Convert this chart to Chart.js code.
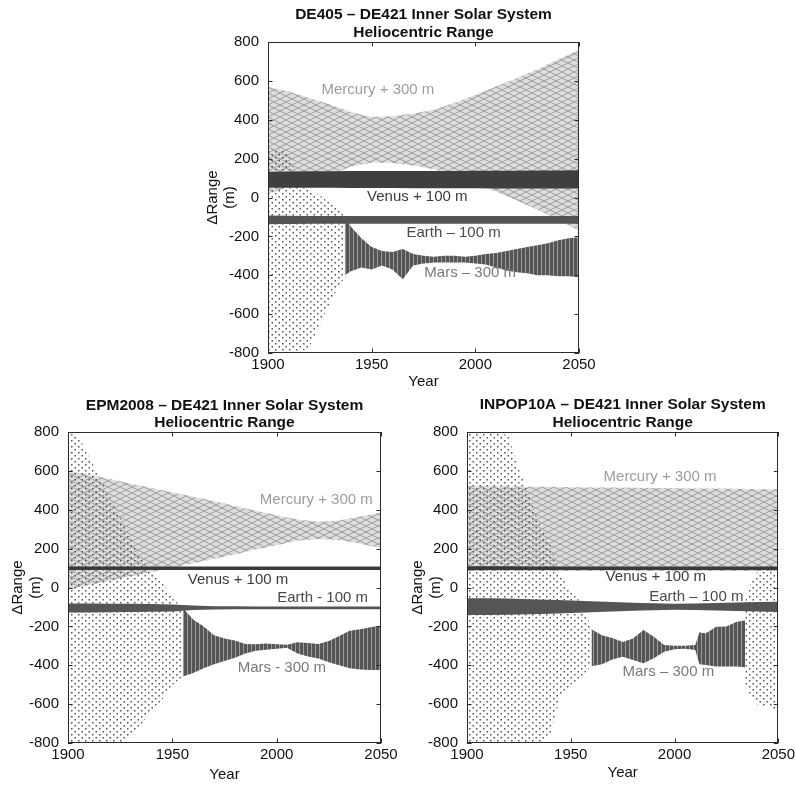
<!DOCTYPE html>
<html>
<head>
<meta charset="utf-8">
<title>Inner Solar System Heliocentric Range</title>
<script src="https://cdn.jsdelivr.net/npm/chart.js@4.4.0/dist/chart.umd.min.js"></script>
<style>
  html, body { margin: 0; padding: 0; background: #fff; }
  body { width: 795px; height: 785px; position: relative; overflow: hidden; }
  canvas { position: absolute; }
</style>
</head>
<body>
<canvas id="chartDe405" width="420" height="392" style="left:190px; top:0px;"></canvas>
<canvas id="chartEpm" width="410" height="400" style="left:0px; top:385px;"></canvas>
<canvas id="chartInpop" width="400" height="400" style="left:398px; top:385px;"></canvas>
<script>
// ---- Data (each series = upper / lower envelope of the point cloud) ----

const xTicks = [1900, 1950, 2000, 2050];
const yTicks = [-800, -600, -400, -200, 0, 200, 400, 600, 800];
const years10 = [1900, 1910, 1920, 1930, 1940, 1950, 1960, 1970, 1980, 1990, 2000, 2010, 2020, 2030, 2040, 2050];

// DE405 - DE421
const de405MercuryHi = [570, 545, 512, 478, 440, 414, 418, 432, 452, 488, 527, 571, 615, 660, 712, 762];
const de405MercuryLo = [20, 55, 88, 120, 158, 180, 178, 165, 145, 110, 70, 30, -15, -62, -115, -170];
const de405VenusHi = [132, 134, 135, 135, 136, 136, 136, 137, 137, 137, 138, 138, 138, 139, 139, 140];
const de405VenusLo = [52, 50, 50, 50, 49, 49, 49, 48, 48, 48, 48, 47, 47, 47, 46, 46];
const de405EarthHi = [-92, -94, -95, -95, -95, -95, -95, -95, -95, -95, -95, -95, -95, -95, -95, -95];
const de405EarthLo = [-138, -136, -135, -135, -135, -135, -135, -135, -135, -135, -135, -135, -135, -135, -135, -135];
const de405MarsCloudYears = [1900, 1905, 1910, 1915, 1920, 1925, 1930, 1935, 1940, 1945];
const de405MarsCloudHi = [250, 250, 230, 60, 40, 10, -30, -70, -150, -210];
const de405MarsCloudLo = [-800, -800, -800, -800, -770, -650, -540, -440, -380, -360];
const de405MarsBandYears = [1937, 1940, 1945, 1950, 1955, 1960, 1965, 1970, 1975, 1980, 1985, 1990, 1995,
  2000, 2005, 2010, 2015, 2020, 2025, 2030, 2035, 2040, 2045, 2050];
const de405MarsBandHi = [-100, -150, -210, -255, -275, -280, -265, -290, -300, -305, -300, -300, -305,
  -300, -290, -285, -275, -265, -255, -245, -235, -220, -210, -205];
const de405MarsBandLo = [-400, -380, -360, -370, -350, -370, -420, -350, -340, -335, -335, -335, -335,
  -340, -345, -360, -375, -385, -390, -400, -400, -405, -405, -410];

// EPM2008 - DE421
const epmMercuryHi = [600, 580, 558, 535, 512, 490, 467, 445, 420, 395, 372, 350, 338, 345, 365, 385];
const epmMercuryLo = [-10, 12, 35, 58, 80, 103, 125, 148, 170, 195, 218, 240, 250, 245, 225, 202];
const epmVenusHi = [108, 108, 108, 108, 108, 108, 108, 108, 108, 108, 108, 108, 108, 108, 108, 108];
const epmVenusLo = [90, 90, 90, 90, 90, 90, 90, 90, 90, 90, 90, 90, 90, 90, 90, 90];
const epmEarthHi = [-82, -82, -83, -84, -85, -87, -93, -96, -97, -98, -98, -98, -98, -98, -98, -98];
const epmEarthLo = [-128, -128, -127, -126, -125, -123, -116, -113, -112, -112, -112, -112, -112, -112, -112, -112];
const epmMarsCloudYears = [1900, 1905, 1910, 1915, 1920, 1925, 1930, 1935, 1940, 1945, 1950, 1955];
const epmMarsCloudHi = [800, 780, 675, 570, 465, 360, 255, 150, 80, 30, -55, -105];
const epmMarsCloudLo = [-800, -800, -800, -800, -800, -800, -770, -705, -640, -580, -500, -458];
const epmMarsBandYears = [1955, 1960, 1965, 1970, 1975, 1980, 1985, 1990, 1995, 2000,
  2005, 2010, 2015, 2020, 2025, 2030, 2035, 2040, 2045, 2050];
const epmMarsBandHi = [-105, -165, -200, -245, -262, -272, -290, -292, -288, -292,
  -295, -282, -285, -290, -275, -250, -222, -215, -205, -195];
const epmMarsBandLo = [-458, -440, -415, -395, -378, -362, -340, -325, -320, -315,
  -310, -340, -355, -365, -385, -400, -415, -422, -425, -425];

// INPOP10A - DE421
const inpopMercuryHi = [522, 521, 520, 519, 518, 516, 515, 514, 513, 512, 511, 510, 509, 508, 506, 505];
const inpopMercuryLo = [85, 85, 85, 85, 85, 85, 85, 85, 85, 85, 85, 85, 85, 85, 85, 85];
const inpopVenusHi = [110, 109, 109, 108, 108, 108, 108, 108, 108, 108, 108, 108, 108, 108, 108, 108];
const inpopVenusLo = [89, 90, 90, 90, 90, 90, 90, 90, 90, 90, 90, 90, 90, 90, 90, 90];
const inpopEarthHi = [-55, -55, -57, -60, -63, -67, -71, -75, -78, -81, -83, -82, -80, -77, -75, -73];
const inpopEarthLo = [-142, -142, -140, -138, -135, -131, -127, -123, -120, -117, -115, -116, -118, -121, -124, -126];
const inpopMarsCloudYears = [1900, 1905, 1910, 1915, 1920, 1925, 1930, 1935, 1940, 1945, 1950, 1955, 1960];
const inpopMarsCloudHi = [800, 800, 800, 800, 780, 610, 470, 325, 225, 70, -20, -75, -210];
const inpopMarsCloudLo = [-800, -800, -800, -800, -800, -800, -800, -800, -760, -565, -500, -462, -400];
const inpopMarsBandYears = [1960, 1965, 1970, 1975, 1980, 1985, 1990, 1995, 2000,
  2005, 2010, 2012, 2015, 2020, 2025, 2030, 2034];
const inpopMarsBandHi = [-215, -245, -260, -280, -262, -218, -253, -296, -300,
  -300, -296, -230, -236, -202, -200, -176, -170];
const inpopMarsBandLo = [-405, -395, -370, -356, -373, -390, -364, -330, -318,
  -315, -321, -395, -399, -407, -407, -407, -410];
const inpopMarsLateYears = [2034, 2037, 2040, 2045, 2050];
const inpopMarsLateHi = [-80, 40, 80, 110, 110];
const inpopMarsLateLo = [-510, -560, -604, -615, -630];

// ---- Styling ----

Chart.defaults.font.family = '"Liberation Sans", Arial, Helvetica, sans-serif';
Chart.defaults.color = '#111';

function makePattern(w, h, draw) {
    const tile = document.createElement('canvas');
    tile.width = w;
    tile.height = h;
    const tctx = tile.getContext('2d');
    draw(tctx);
    return tctx.createPattern(tile, 'repeat');
}

// light grey criss-cross dots for Mercury
const mercuryFill = makePattern(12, 6, (c) => {
    c.fillStyle = 'rgba(160,160,160,0.35)';
    c.fillRect(0, 0, 12, 6);
    c.strokeStyle = '#9c9c9c';
    c.lineWidth = 1;
    c.beginPath();
    c.moveTo(0, 0); c.lineTo(12, 6);
    c.moveTo(0, 6); c.lineTo(12, 0);
    c.stroke();
});

// sparse dark dots for the spread-out Mars cloud
const marsCloudFill = makePattern(7, 6, (c) => {
    c.fillStyle = '#555555';
    c.fillRect(1, 1, 1.5, 1.5);
    c.fillRect(4.5, 4, 1.5, 1.5);
});

// dense vertical stripes for the Mars oscillation band
const marsBandFill = makePattern(4, 3, (c) => {
    c.fillStyle = '#9a9a9a';
    c.fillRect(0, 0, 4, 3);
    c.fillStyle = '#555555';
    c.fillRect(0, 0, 3, 3);
});

// Two line datasets, the lower one filled up to the upper one
function bandDatasets(label, years, hi, lo, fillStyle) {
    const base = { pointRadius: 0, borderWidth: 1, borderColor: 'rgba(0,0,0,0)', tension: 0 };
    return [
        { ...base, label: label + ' max', data: years.map((yr, i) => ({ x: yr, y: hi[i] })), fill: false },
        { ...base, label: label + ' min', data: years.map((yr, i) => ({ x: yr, y: lo[i] })), fill: '-1', backgroundColor: fillStyle }
    ];
}

// Frame round the plot with inward tick marks on all four sides
const frameTicks = {
    id: 'frameTicks',
    afterDatasetsDraw(chart) {
        const { ctx, chartArea: a, scales: { x, y } } = chart;
        const len = 4.5;
        ctx.save();
        ctx.strokeStyle = '#2b2b2b';
        ctx.lineWidth = 1;
        ctx.beginPath();
        yTicks.forEach(v => {
            const py = Math.round(y.getPixelForValue(v)) + 0.5;
            ctx.moveTo(a.left, py); ctx.lineTo(a.left + len, py);
            ctx.moveTo(a.right, py); ctx.lineTo(a.right - len, py);
        });
        xTicks.forEach(v => {
            const px = Math.round(x.getPixelForValue(v)) + 0.5;
            ctx.moveTo(px, a.bottom); ctx.lineTo(px, a.bottom - len);
            ctx.moveTo(px, a.top); ctx.lineTo(px, a.top + len);
        });
        ctx.stroke();
        ctx.strokeRect(Math.round(a.left) + 0.5, Math.round(a.top) + 0.5,
            Math.round(a.right - a.left) - 1, Math.round(a.bottom - a.top) - 1);
        ctx.restore();
    }
};

// Planet names written inside the plot, placed in data coordinates
const seriesLabels = {
    id: 'seriesLabels',
    afterDatasetsDraw(chart, args, opts) {
        const { ctx, scales: { x, y } } = chart;
        ctx.save();
        ctx.font = '15px "Liberation Sans", Arial, sans-serif';
        ctx.textAlign = 'center';
        ctx.textBaseline = 'middle';
        (opts.items || []).forEach(item => {
            ctx.fillStyle = item.color;
            ctx.fillText(item.text, x.getPixelForValue(item.year), y.getPixelForValue(item.value));
        });
        ctx.restore();
    }
};

function buildPanel(canvasId, panel) {
    const tickFont = { size: 15 };
    return new Chart(document.getElementById(canvasId), {
        type: 'line',
        data: { datasets: panel.datasets },
        options: {
            responsive: false,
            animation: false,
            devicePixelRatio: 1,
            events: [],
            layout: { padding: { left: 0, top: 0, right: panel.padRight, bottom: 0 } },
            scales: {
                x: {
                    type: 'linear',
                    min: 1900,
                    max: 2050,
                    afterFit: (s) => { s.height = panel.xAxisHeight; },
                    afterBuildTicks: (s) => { s.ticks = xTicks.map(v => ({ value: v })); },
                    grid: { display: false, drawTicks: false },
                    border: { display: false },
                    ticks: { padding: 3, maxRotation: 0, autoSkip: false, color: '#111', font: tickFont, callback: v => String(v) },
                    title: { display: true, text: 'Year', color: '#111', font: { size: 15, lineHeight: 1.2 }, padding: { top: 0, bottom: panel.yearPad } }
                },
                y: {
                    type: 'linear',
                    min: -800,
                    max: 800,
                    afterFit: (s) => { s.width = panel.yAxisWidth; },
                    afterBuildTicks: (s) => { s.ticks = yTicks.map(v => ({ value: v })); },
                    grid: { display: false, drawTicks: false },
                    border: { display: false },
                    ticks: { padding: 9, color: '#111', font: tickFont, callback: v => String(v) },
                    title: { display: true, text: ['\u0394Range', '(m)'], color: '#111', font: { size: 15, lineHeight: 1.15 }, padding: { top: panel.rangePad, bottom: 0 } }
                }
            },
            plugins: {
                legend: { display: false },
                tooltip: { enabled: false },
                title: {
                    display: true,
                    fullSize: false,
                    text: panel.title,
                    color: '#111',
                    font: { size: 15.5, weight: 'bold', lineHeight: 1.13 },
                    padding: panel.titlePad
                },
                seriesLabels: { items: panel.labels }
            }
        },
        plugins: [frameTicks, seriesLabels]
    });
}

// ---- Panels ----

buildPanel('chartDe405', {
    title: ['DE405 \u2013 DE421 Inner Solar System', 'Heliocentric Range'],
    titlePad: { top: 6, bottom: 1 },
    padRight: 31, xAxisHeight: 39, yAxisWidth: 78, yearPad: 1.3, rangePad: 14,
    datasets: [
        ...bandDatasets('Venus + 100 m', years10, de405VenusHi, de405VenusLo, '#3f3f3f'),
        ...bandDatasets('Earth \u2013 100 m', years10, de405EarthHi, de405EarthLo, '#545454'),
        ...bandDatasets('Mars band', de405MarsBandYears, de405MarsBandHi, de405MarsBandLo, marsBandFill),
        ...bandDatasets('Mars cloud', de405MarsCloudYears, de405MarsCloudHi, de405MarsCloudLo, marsCloudFill),
        ...bandDatasets('Mercury + 300 m', years10, de405MercuryHi, de405MercuryLo, mercuryFill)
    ],
    labels: [
        { text: 'Mercury + 300 m', year: 1953, value: 553, color: '#9c9c9c' },
        { text: 'Venus + 100 m', year: 1972, value: 4, color: '#3c3c3c' },
        { text: 'Earth \u2013 100 m', year: 1989.5, value: -184, color: '#4a4a4a' },
        { text: 'Mars \u2013 300 m', year: 1997.5, value: -390, color: '#7a7a7a' }
    ]
});

buildPanel('chartEpm', {
    title: ['EPM2008 \u2013 DE421 Inner Solar System', 'Heliocentric Range'],
    titlePad: { top: 11.5, bottom: 0.5 },
    padRight: 29, xAxisHeight: 42, yAxisWidth: 68, yearPad: 1, rangePad: 9.5,
    datasets: [
        ...bandDatasets('Venus + 100 m', years10, epmVenusHi, epmVenusLo, '#3a3a3a'),
        ...bandDatasets('Earth - 100 m', years10, epmEarthHi, epmEarthLo, '#555555'),
        ...bandDatasets('Mars band', epmMarsBandYears, epmMarsBandHi, epmMarsBandLo, marsBandFill),
        ...bandDatasets('Mars cloud', epmMarsCloudYears, epmMarsCloudHi, epmMarsCloudLo, marsCloudFill),
        ...bandDatasets('Mercury + 300 m', years10, epmMercuryHi, epmMercuryLo, mercuryFill)
    ],
    labels: [
        { text: 'Mercury + 300 m', year: 2019, value: 450, color: '#9c9c9c' },
        { text: 'Venus + 100 m', year: 1981.5, value: 39, color: '#3c3c3c' },
        { text: 'Earth - 100 m', year: 2022, value: -55, color: '#4a4a4a' },
        { text: 'Mars - 300 m', year: 2002.5, value: -415, color: '#7a7a7a' }
    ]
});

buildPanel('chartInpop', {
    title: ['INPOP10A \u2013 DE421 Inner Solar System', 'Heliocentric Range'],
    titlePad: { top: 11, bottom: 1 },
    padRight: 19, xAxisHeight: 42, yAxisWidth: 69, yearPad: 2.7, rangePad: 11.5,
    datasets: [
        ...bandDatasets('Venus + 100 m', years10, inpopVenusHi, inpopVenusLo, '#3a3a3a'),
        ...bandDatasets('Earth \u2013 100 m', years10, inpopEarthHi, inpopEarthLo, '#555555'),
        ...bandDatasets('Mars band', inpopMarsBandYears, inpopMarsBandHi, inpopMarsBandLo, marsBandFill),
        ...bandDatasets('Mars late cloud', inpopMarsLateYears, inpopMarsLateHi, inpopMarsLateLo, marsCloudFill),
        ...bandDatasets('Mars cloud', inpopMarsCloudYears, inpopMarsCloudHi, inpopMarsCloudLo, marsCloudFill),
        ...bandDatasets('Mercury + 300 m', years10, inpopMercuryHi, inpopMercuryLo, mercuryFill)
    ],
    labels: [
        { text: 'Mercury + 300 m', year: 1993, value: 570, color: '#9c9c9c' },
        { text: 'Venus + 100 m', year: 1991, value: 56, color: '#3c3c3c' },
        { text: 'Earth \u2013 100 m', year: 2010.5, value: -47, color: '#4a4a4a' },
        { text: 'Mars \u2013 300 m', year: 1997, value: -433, color: '#7a7a7a' }
    ]
});
</script>
</body>
</html>
